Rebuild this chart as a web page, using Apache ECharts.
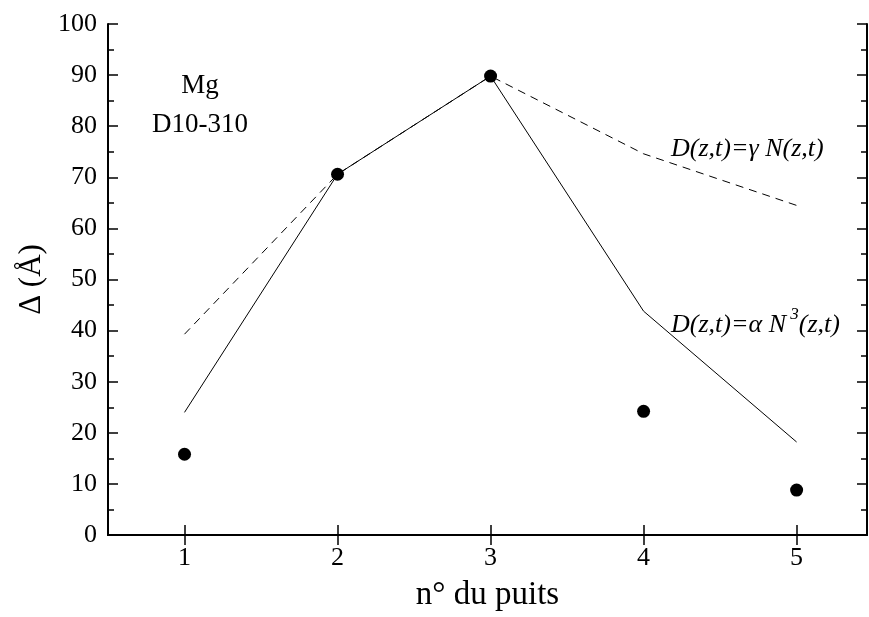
<!DOCTYPE html>
<html><head><meta charset="utf-8">
<script src="https://cdn.jsdelivr.net/npm/echarts@6/dist/echarts.min.js"></script>
<style>html,body{margin:0;padding:0;background:#fff}#c{width:869px;height:617px}</style>
</head><body><div id="c"></div>
<script>
const wells = [1, 2, 3, 4, 5];
const measured = [15.8, 70.6, 89.8, 24.2, 8.8];
const modelCubic = [24.0, 70.6, 89.8, 43.8, 18.2];
const modelLinear = [39.3, 70.6, 89.8, 74.6, 64.5];
const xTicks = [1, 2, 3, 4, 5];
const annotations = ['Mg', 'D10-310'];

const chart = echarts.init(document.getElementById('c'));
const font = 'Liberation Serif, Times New Roman, serif';
const pairs = arr => wells.map((w, i) => [w, arr[i]]);
const axisLine = {show: true, lineStyle: {color: '#000', width: 2}};
const tickStyle = {color: '#000', width: 1.5};
chart.setOption({
  animation: false,
  grid: {left: 108, right: 2, top: 24, bottom: 77},
  xAxis: [{
    type: 'value', min: 0.5, max: 5.46, position: 'bottom',
    axisLine, splitLine: {show: false},
    axisTick: {inside: true, length: 10, lineStyle: tickStyle, customValues: xTicks},
    axisLabel: {customValues: xTicks, color: '#000', fontFamily: font, fontSize: 26, margin: 10},
    name: 'n° du puits', nameLocation: 'middle', nameGap: 44,
    nameTextStyle: {color: '#000', fontFamily: font, fontSize: 33}
  }, {
    type: 'value', min: 0.5, max: 5.46, position: 'top',
    axisLine, splitLine: {show: false},
    axisTick: {inside: true, length: 10, lineStyle: tickStyle, customValues: xTicks},
    axisLabel: {show: false}
  }],
  yAxis: [{
    type: 'value', min: 0, max: 100, interval: 10, position: 'left',
    axisLine, splitLine: {show: false},
    axisTick: {inside: true, length: 10, lineStyle: tickStyle},
    minorTick: {show: true, splitNumber: 2, length: 6, lineStyle: tickStyle},
    axisLabel: {color: '#000', fontFamily: font, fontSize: 26, margin: 11},
    name: 'Δ (Å)', nameLocation: 'middle', nameGap: 61, nameRotate: 90,
    nameTextStyle: {color: '#000', fontFamily: font, fontSize: 31}
  }, {
    type: 'value', min: 0, max: 100, interval: 10, position: 'right',
    axisLine, splitLine: {show: false},
    axisTick: {inside: true, length: 10, lineStyle: tickStyle},
    minorTick: {show: true, splitNumber: 2, length: 6, lineStyle: tickStyle},
    axisLabel: {show: false}
  }],
  series: [{
    type: 'line', data: pairs(modelLinear), symbol: 'none',
    lineStyle: {color: '#000', width: 1, type: [8, 6]}
  }, {
    type: 'line', data: pairs(modelCubic), symbol: 'none',
    lineStyle: {color: '#000', width: 1}
  }, {
    type: 'scatter', data: pairs(measured), symbol: 'circle', symbolSize: 13,
    itemStyle: {color: '#000', opacity: 1}
  }],
  graphic: [
    {type: 'text', x: 200, y: 86, style: {text: annotations[0], font: '27px ' + font, fill: '#000', align: 'center', verticalAlign: 'middle'}},
    {type: 'text', x: 200, y: 125, style: {text: annotations[1], font: '27px ' + font, fill: '#000', align: 'center', verticalAlign: 'middle'}},
    {type: 'text', x: 671, y: 149, style: {
      text: '{i|D(z,t)=γ N(z,t)}', verticalAlign: 'middle',
      rich: {i: {fontFamily: font, fontSize: 26, fontStyle: 'italic', fill: '#000'}}}},
    {type: 'text', x: 671, y: 322, style: {
      text: '{i|D(z,t)=α N}{s| 3}{i|(z,t)}', verticalAlign: 'middle',
      rich: {
        i: {fontFamily: font, fontSize: 26, fontStyle: 'italic', fill: '#000', lineHeight: 32, verticalAlign: 'bottom'},
        s: {fontFamily: font, fontSize: 17, fontStyle: 'italic', fill: '#000', lineHeight: 32, verticalAlign: 'top'}
      }}}
  ]
});
</script></body></html>
